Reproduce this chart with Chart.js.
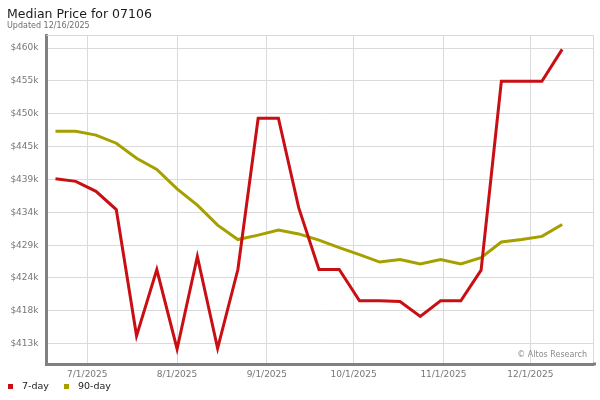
<!DOCTYPE html>
<html>
<head>
<meta charset="utf-8">
<title>Median Price for 07106</title>
<script src="https://cdn.jsdelivr.net/npm/chart.js@4.4.1/dist/chart.umd.min.js"></script>
<style>
    body { margin: 0; background: #fff; }
    canvas { display: block; }
</style>
</head>
<body>
<canvas id="priceChart" width="600" height="400"></canvas>
<script>
// Weekly points (week ending)
const dates = [
    '2025-06-20', '2025-06-27', '2025-07-04', '2025-07-11', '2025-07-18', '2025-07-25',
    '2025-08-01', '2025-08-08', '2025-08-15', '2025-08-22', '2025-08-29', '2025-09-05',
    '2025-09-12', '2025-09-19', '2025-09-26', '2025-10-03', '2025-10-10', '2025-10-17',
    '2025-10-24', '2025-10-31', '2025-11-07', '2025-11-14', '2025-11-21', '2025-11-28',
    '2025-12-05', '2025-12-12'
];

// Median price in $k
const sevenDay = [
    439.5, 439.1, 437.5, 434.6, 414.4, 425.0, 412.3, 427.1, 412.4, 425.0, 449.2, 449.2,
    434.9, 425.0, 425.0, 420.0, 420.0, 419.9, 417.5, 420.0, 420.0, 424.9, 455.1, 455.1,
    455.1, 460.2
];
const ninetyDay = [
    447.1, 447.1, 446.5, 445.2, 442.8, 441.0, 437.9, 435.3, 432.1, 429.8, 430.5, 431.3,
    430.7, 429.7, 428.5, 427.4, 426.2, 426.6, 425.9, 426.6, 425.9, 426.9, 429.4, 429.8,
    430.3, 432.2
];

const xTickDates = ['2025-07-01', '2025-08-01', '2025-09-01', '2025-10-01', '2025-11-01', '2025-12-01'];
const xTickLabels = ['7/1/2025', '8/1/2025', '9/1/2025', '10/1/2025', '11/1/2025', '12/1/2025'];
const yTickValues = [413.15, 418.4, 423.65, 428.9, 434.15, 439.4, 444.65, 449.9, 455.15, 460.4];

const seriesNames = ['7-day', '90-day'];
const seriesColors = ['#c80f14', '#a59f00'];

const FONT = "'DejaVu Sans', sans-serif";

// day number within 2025
function dayOf(str) {
    const [y, m, d] = str.split('-').map(Number);
    return (Date.UTC(y, m - 1, d) - Date.UTC(2025, 0, 1)) / 86400000;
}

function toPoints(values) {
    return values.map((v, i) => ({ x: dayOf(dates[i]), y: v }));
}

const decorPlugin = {
    id: 'decor',
    beforeDatasetsDraw(chart) {
        const { ctx, chartArea: a } = chart;
        ctx.save();
        // frame top / right
        ctx.strokeStyle = '#d9d9d9';
        ctx.lineWidth = 1;
        ctx.beginPath();
        ctx.moveTo(a.left, a.top + 0.5);
        ctx.lineTo(a.right + 0.5, a.top + 0.5);
        ctx.lineTo(a.right + 0.5, a.bottom);
        ctx.stroke();
        // bottom axis runs a little past the plot
        ctx.fillStyle = '#808080';
        ctx.fillRect(a.right, a.bottom - 1.5, 3, 3);
        // watermark
        ctx.fillStyle = '#8a8a8a';
        ctx.font = '8px ' + FONT;
        ctx.textAlign = 'right';
        ctx.textBaseline = 'middle';
        ctx.fillText('\u00a9 Altos Research', a.right - 6, a.bottom - 9);
        ctx.restore();
    },
    afterDraw(chart) {
        const ctx = chart.ctx;
        ctx.save();
        ctx.textAlign = 'left';
        ctx.textBaseline = 'alphabetic';
        ctx.fillStyle = '#1a1a1a';
        ctx.font = '12.5px ' + FONT;
        ctx.fillText('Median Price for 07106', 7, 17.5);
        ctx.fillStyle = '#6e6e6e';
        ctx.font = '8px ' + FONT;
        ctx.fillText('Updated 12/16/2025', 7, 27.5);

        // legend
        ctx.font = '9.5px ' + FONT;
        ctx.textBaseline = 'middle';
        let x = 8;
        seriesNames.forEach((name, i) => {
            ctx.fillStyle = seriesColors[i];
            ctx.fillRect(x, 384, 5, 5);
            ctx.fillStyle = '#1a1a1a';
            ctx.fillText(name, x + 14, 387);
            x += 56;
        });
        ctx.restore();
    }
};

new Chart(document.getElementById('priceChart'), {
    type: 'line',
    data: {
        datasets: seriesNames.map((name, i) => ({
            label: name,
            data: toPoints(i === 0 ? sevenDay : ninetyDay),
            borderColor: seriesColors[i],
            borderWidth: 3,
            borderJoinStyle: 'miter',
            pointRadius: 0,
            tension: 0,
            fill: false
        }))
    },
    options: {
        responsive: false,
        animation: false,
        events: [],
        layout: { padding: { top: 35, right: 7, bottom: 0, left: 0 } },
        plugins: {
            legend: { display: false },
            title: { display: false },
            tooltip: { enabled: false }
        },
        scales: {
            x: {
                type: 'linear',
                min: 166.9,
                max: 355.65,
                afterFit: (scale) => { scale.height = 36; },
                afterBuildTicks: (scale) => {
                    scale.ticks = xTickDates.map(d => ({ value: dayOf(d) }));
                },
                grid: { color: '#dadada', drawTicks: false },
                border: { color: '#808080', width: 3 },
                ticks: {
                    padding: 5,
                    autoSkip: false,
                    maxRotation: 0,
                    color: '#777',
                    font: { family: FONT, size: 9 },
                    callback: (value, index) => xTickLabels[index]
                }
            },
            y: {
                min: 409.9,
                max: 462.5,
                afterFit: (scale) => { scale.width = 46.5; },
                afterBuildTicks: (scale) => {
                    scale.ticks = yTickValues.map(v => ({ value: v }));
                },
                grid: { color: '#dadada', drawTicks: false },
                border: { color: '#808080', width: 3 },
                ticks: {
                    padding: 8,
                    color: '#777',
                    font: { family: FONT, size: 9 },
                    callback: (value) => '$' + Math.round(value) + 'k'
                }
            }
        }
    },
    plugins: [decorPlugin]
});
</script>
</body>
</html>
